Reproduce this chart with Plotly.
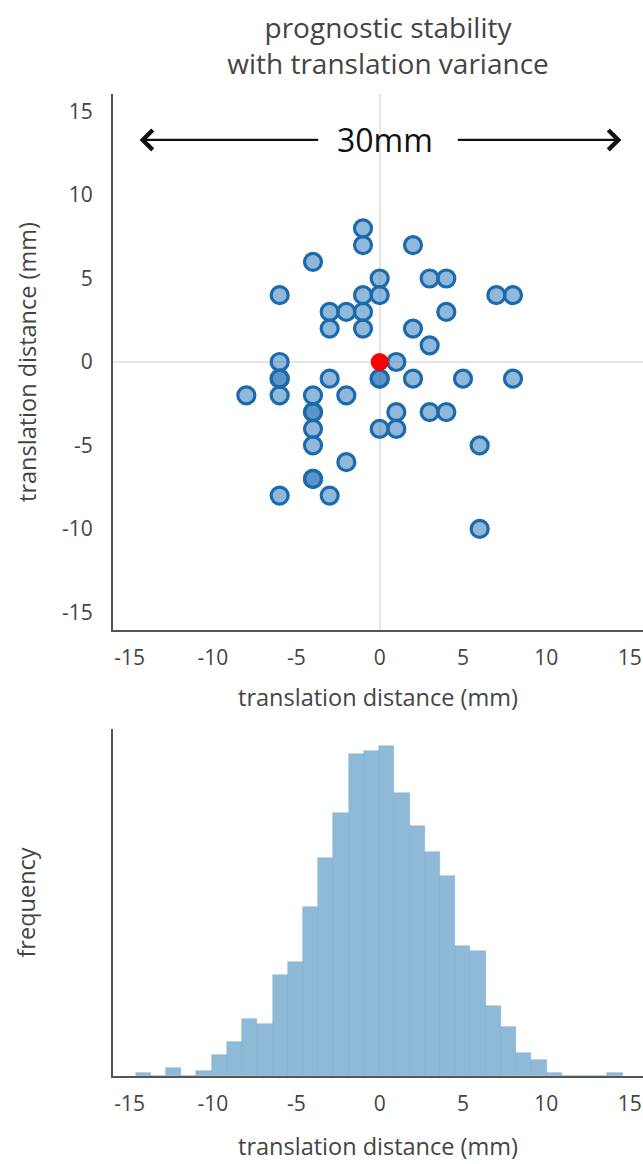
import plotly.graph_objects as go

# ---- data ----
pts_x = [-1, -1, 2, -4, 0, 3, 4, -6, -1, 0, 7, 8, -3, -2, -1, 4, -3, -1, 2, 3, -6, 1,
         -6, -6, -3, 0, 0, 2, 5, 8,
         -8, -6, -4, -2,
         -4, -4, 1, 3, 4,
         -4, 0, 1,
         -4, 6,
         -2,
         -4, -4,
         -6, -3,
         6]
pts_y = [8, 7, 7, 6, 5, 5, 5, 4, 4, 4, 4, 4, 3, 3, 3, 3, 2, 2, 2, 1, 0, 0,
         -1, -1, -1, -1, -1, -1, -1, -1,
         -2, -2, -2, -2,
         -3, -3, -3, -3, -3,
         -4, -4, -4,
         -5, -5,
         -6,
         -7, -7,
         -8, -8,
         -10]
origin_x = [0]
origin_y = [0]

hist_bin_start = -14.65
hist_bin_width = 0.9135
hist_counts = [1, 0, 3, 0, 2, 8, 13, 22, 20, 39, 44, 65, 84, 101, 124, 125,
               127, 109, 96, 86, 77, 50, 48, 27, 19, 9, 6, 1, 0, 0, 0, 1]

tick_vals = [-15, -10, -5, 0, 5, 10, 15]
tick_text = ["-15", "-10", "-5", "0", "5", "10", "15"]

hist_centers = [hist_bin_start + (i + 0.5) * hist_bin_width for i in range(len(hist_counts))]

FONT = "Open Sans"
TXT = "#444444"
LINE = "#555555"
W, H = 643, 1164

fig = go.Figure()

fig.add_trace(go.Scatter(
    x=pts_x, y=pts_y, mode="markers",
    marker=dict(size=17, color="rgba(33,113,181,0.5)",
                line=dict(color="rgb(28,106,172)", width=3.2)),
    xaxis="x", yaxis="y", showlegend=False, hoverinfo="x+y"))

fig.add_trace(go.Scatter(
    x=origin_x, y=origin_y, mode="markers",
    marker=dict(size=18, color="#ff0000", line=dict(width=0)),
    xaxis="x", yaxis="y", showlegend=False))

fig.add_trace(go.Bar(
    x=hist_centers, y=hist_counts, width=hist_bin_width,
    marker=dict(color="rgb(143,186,215)",
                line=dict(color="rgba(110,160,200,0.6)", width=0.6)),
    xaxis="x2", yaxis="y2", showlegend=False))

axis_common = dict(
    showgrid=False, showline=True, linecolor=LINE, linewidth=2,
    tickfont=dict(family=FONT, size=21, color=TXT),
)
title_font = dict(family=FONT, size=23.5, color=TXT)

arrow_y = 13.3
annotations = [
    dict(x=0.3, y=arrow_y, xref="x", yref="y", text="30mm", showarrow=False,
         font=dict(family=FONT, size=32, color="#111111")),
    dict(x=-14.4, y=arrow_y, ax=-3.6, ay=arrow_y, xref="x", yref="y",
         axref="x", ayref="y", text="", showarrow=True, arrowhead=4,
         arrowsize=1.6, arrowwidth=2.4, arrowcolor="#111111"),
    dict(x=14.5, y=arrow_y, ax=4.6, ay=arrow_y, xref="x", yref="y",
         axref="x", ayref="y", text="", showarrow=True, arrowhead=4,
         arrowsize=1.6, arrowwidth=2.4, arrowcolor="#111111"),
]

fig.update_layout(
    width=W, height=H,
    margin=dict(l=113, r=0, t=94, b=H - 1076),
    paper_bgcolor="white", plot_bgcolor="white",
    font=dict(family=FONT, color=TXT),
    title=dict(text="prognostic stability<br>with translation variance",
               x=388 / W, xanchor="center", xref="container",
               y=1 - 38 / H, yanchor="middle", yref="container",
               font=dict(family=FONT, size=28, color=TXT)),
    bargap=0,
    xaxis=dict(axis_common, domain=[0, 1], range=[-16, 15.8], anchor="y",
               tickvals=tick_vals, ticktext=tick_text,
               ticks="outside", ticklen=8, tickcolor="rgba(0,0,0,0)",
               zeroline=True, zerolinecolor="#e6e6e6", zerolinewidth=1.5,
               title=dict(text="translation distance (mm)", standoff=19, font=title_font)),
    yaxis=dict(axis_common, domain=[0.4542, 1], range=[-16.05, 16.05], anchor="x",
               tickvals=tick_vals, ticktext=tick_text,
               ticks="outside", ticklen=14, tickcolor="rgba(0,0,0,0)",
               zeroline=True, zerolinecolor="#e6e6e6", zerolinewidth=1.5,
               title=dict(text="translation distance (mm)", standoff=19, font=title_font)),
    xaxis2=dict(axis_common, domain=[0, 1], range=[-16, 15.8], anchor="y2",
                tickvals=tick_vals, ticktext=tick_text,
                ticks="outside", ticklen=8, tickcolor="rgba(0,0,0,0)",
                zeroline=False,
                title=dict(text="translation distance (mm)", standoff=22, font=title_font)),
    yaxis2=dict(axis_common, domain=[0, 0.3534], range=[0, 133.5], anchor="x2",
                showticklabels=False, ticks="", zeroline=False,
                title=dict(text="frequency", standoff=69, font=title_font)),
    annotations=annotations,
)

fig.write_html("out.html",
               config={"displayModeBar": False},
               post_script="document.body.style.margin='0';document.body.style.overflow='hidden';")
